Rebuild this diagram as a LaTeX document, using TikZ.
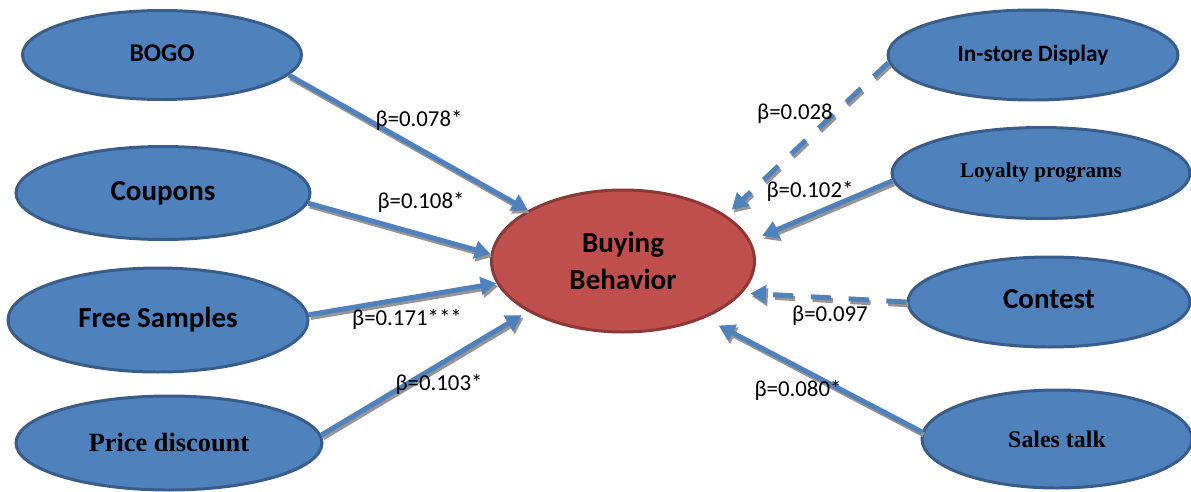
\documentclass[tikz,border=0pt]{standalone}
\usepackage{fontspec}
\setmainfont{Carlito}
\newfontfamily\tnr{Liberation Serif}
\usetikzlibrary{shapes.geometric,arrows.meta}
\definecolor{ovalblue}{HTML}{4F81BD}
\definecolor{ovaledge}{HTML}{385D8A}
\definecolor{ovalred}{HTML}{C0504D}
\definecolor{rededge}{HTML}{8C3836}
\definecolor{shade}{HTML}{959595}
\tikzset{
  oval/.style 2 args={ellipse, inner sep=0pt, line width=1.7pt,
    minimum width=#1*0.02cm, minimum height=#2*0.02cm},
  factor/.style={draw=ovaledge, fill=ovalblue},
  outcome/.style={draw=rededge, fill=ovalred, align=center},
  coef/.style={font=\fontsize{13}{15}\selectfont},
  effect/.style={line width=2.8pt, -{Triangle[length=9pt,width=10pt]}},
  weak/.style={effect, dash pattern=on 11.5pt off 10pt},
}
\begin{document}
\begin{tikzpicture}[x=0.02cm,y=-0.02cm]
\useasboundingbox (0,0) rectangle (1191,491);
% left column
\node[factor,oval={279}{89},font=\bfseries\fontsize{14.5}{16}\selectfont] (bogo) at (162,55) {\raisebox{2pt}{BOGO}};
\node[factor,oval={294}{93},font=\bfseries\fontsize{16.5}{18}\selectfont] (coup) at (163,193) {\raisebox{1.5pt}{Coupons}};
\node[factor,oval={300}{104},font=\bfseries\fontsize{16.5}{18}\selectfont] (free) at (158,320) {Free Samples};
\node[factor,oval={306}{94},font=\tnr\bfseries\fontsize{15}{17}\selectfont] (price) at (169,443) {Price discount};
% right column
\node[factor,oval={290}{90},font=\bfseries\fontsize{13.3}{15}\selectfont] (disp) at (1033,55) {In-store Display};
\node[factor,oval={298}{91},font=\tnr\bfseries\fontsize{12}{14}\selectfont] (loyal) at (1041,173) {Loyalty programs};
\node[factor,oval={282}{90},font=\bfseries\fontsize{16.5}{18}\selectfont] (cont) at (1049,302) {\raisebox{3.5pt}{Contest}};
\node[factor,oval={270}{98},font=\tnr\bfseries\fontsize{13.6}{15}\selectfont] (sales) at (1057,439) {Sales talk};
% centre
\node[outcome,oval={263}{142},font=\bfseries\fontsize{16.5}{21.5}\selectfont] (bb) at (623,261) {Buying\\Behavior};
% arrows, grey copy first as the drop shadow
\foreach \col/\dx/\dy in {shade/1pt/-1.6pt,ovalblue/0pt/0pt}{
  \begin{scope}[transform canvas={shift={(\dx,\dy)}},draw=\col]
  \draw[effect] (bogo.-9) -- (bb.152);
  \draw[effect] (coup.-4) -- (bb.177);
  \draw[effect] (free.2) -- (bb.190);
  \draw[effect,shorten >=4pt] (price.3) -- (bb.208);
  \draw[weak,shorten >=4.5pt] (disp.183) -- (bb.24);
  \draw[effect,shorten >=7pt] (loyal.183) -- (bb.9);
  \draw[weak,shorten >=4.5pt] (cont.180) -- (bb.-15);
  \draw[effect,shorten >=9pt] (sales.177) -- (bb.-35);
  \end{scope}
}
% coefficients
\node[coef] (c1) at (419,120) {β=0.078*};
\node[coef] (c2) at (421,202) {β=0.108*};
\node[coef] (c3) at (407,319) {β=0.171***};
\node[coef] (c4) at (439,384) {β=0.103*};
\node[coef] (c5) at (795,114) {β=0.028};
\node[coef] (c6) at (810,191) {β=0.102*};
\node[coef] (c7) at (830,316) {β=0.097};
\node[coef] (c8) at (798,390) {β=0.080*};
\end{tikzpicture}
\end{document}
